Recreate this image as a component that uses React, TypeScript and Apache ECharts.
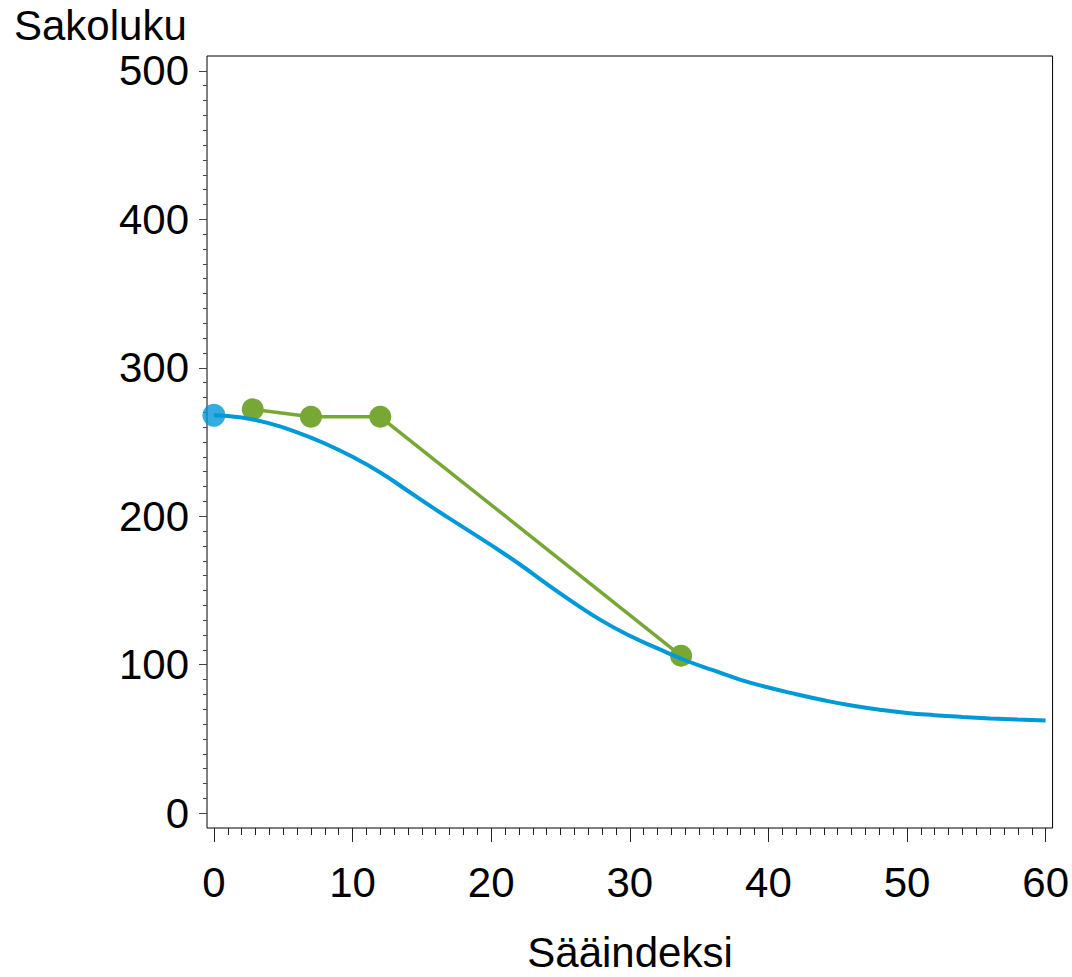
import React, { useEffect, useRef } from "react";
import * as echarts from "echarts";

const xTitle = "Sääindeksi";
const yTitle = "Sakoluku";

const curveX = [0, 2, 4, 6, 8, 10, 12, 14, 16, 18, 20, 22, 24, 26, 28, 30, 32, 34, 36, 38, 40, 42, 44, 46, 48, 50, 52, 54, 56, 58, 60];
const curveY = [268, 266.5, 262.5, 256.5, 249, 240, 229.5, 217, 204.5, 192.5, 180.5, 168, 154.5, 141.5, 129.5, 119.5, 111, 103, 96.3, 89.8, 84.6, 80.1, 76, 72.5, 69.7, 67.5, 66, 64.8, 63.8, 63, 62.4];

const pointsX = [2.8, 7, 12, 33.7];
const pointsY = [272, 267, 267, 106];

const startX = [0];
const startY = [268];

const xMajorTicks = [0, 10, 20, 30, 40, 50, 60];
const xMinorTicks = Array.from({ length: 61 }, (_, i) => i);
const yMajorTicks = [0, 100, 200, 300, 400, 500];
const yMinorTicks = Array.from({ length: 51 }, (_, i) => i * 10);

const FONT = "'Liberation Sans', Arial, sans-serif";
const BLUE = "#0099d8";
const GREEN = "#77a836";

export default function App() {
  const ref = useRef<HTMLDivElement>(null);
  useEffect(() => {
    if (!ref.current) return;
    const chart = echarts.init(ref.current, undefined, { renderer: "svg" });
    const xBase = {
      type: "value",
      min: -0.5,
      max: 60.5,
      position: "bottom",
      axisLine: { show: false, onZero: false },
      splitLine: { show: false },
    };
    const yBase = {
      type: "value",
      min: -10,
      max: 510,
      position: "left",
      axisLine: { show: false, onZero: false },
      splitLine: { show: false },
    };
    chart.setOption({
      animation: false,
      backgroundColor: "#ffffff",
      grid: {
        left: 207,
        right: 17,
        top: 56,
        bottom: 149,
        show: true,
        borderColor: "#000",
        borderWidth: 1,
        backgroundColor: "transparent",
      },
      xAxis: [
        {
          ...xBase,
          axisTick: { show: true, length: 14, customValues: xMajorTicks, lineStyle: { color: "#222", width: 1 } },
          axisLabel: {
            show: true,
            customValues: xMajorTicks,
            fontSize: 42,
            fontFamily: FONT,
            color: "#000",
            margin: 33,
          },
        },
        {
          ...xBase,
          axisTick: { show: true, length: 7, customValues: xMinorTicks, lineStyle: { color: "#222", width: 1 } },
          axisLabel: { show: false },
        },
      ],
      yAxis: [
        {
          ...yBase,
          axisTick: { show: true, length: 8, customValues: yMajorTicks, lineStyle: { color: "#444", width: 1 } },
          axisLabel: {
            show: true,
            customValues: yMajorTicks,
            fontSize: 42,
            fontFamily: FONT,
            color: "#000",
            margin: 18,
          },
        },
        {
          ...yBase,
          axisTick: { show: true, length: 4, customValues: yMinorTicks, lineStyle: { color: "#444", width: 1 } },
          axisLabel: { show: false },
        },
      ],
      graphic: [
        {
          type: "text",
          left: 14,
          top: 4,
          style: { text: yTitle, font: `42px ${FONT}`, fill: "#000" },
        },
        {
          type: "text",
          x: 630,
          y: 952,
          style: {
            text: xTitle,
            font: `42px ${FONT}`,
            lineHeight: 36,
            fill: "#000",
            textAlign: "center",
            textVerticalAlign: "middle",
          },
        },
      ],
      series: [
        {
          type: "line",
          xAxisIndex: 0,
          yAxisIndex: 0,
          data: pointsX.map((x, i) => [x, pointsY[i]]),
          symbol: "circle",
          symbolSize: 22,
          showSymbol: true,
          itemStyle: { color: GREEN },
          lineStyle: { color: GREEN, width: 3.5 },
          z: 2,
        },
        {
          type: "line",
          xAxisIndex: 0,
          yAxisIndex: 0,
          data: curveX.map((x, i) => [x, curveY[i]]),
          smooth: 0.5,
          showSymbol: false,
          symbol: "none",
          lineStyle: { color: BLUE, width: 4 },
          z: 3,
        },
        {
          type: "scatter",
          xAxisIndex: 0,
          yAxisIndex: 0,
          data: startX.map((x, i) => [x, startY[i]]),
          symbol: "circle",
          symbolSize: 23,
          itemStyle: { color: BLUE },
          z: 4,
        },
      ],
    });
    return () => chart.dispose();
  }, []);
  return (
    <div
      ref={ref}
      style={{ position: "fixed", left: 0, top: 0, width: 1072, height: 977, background: "#fff" }}
    />
  );
}
